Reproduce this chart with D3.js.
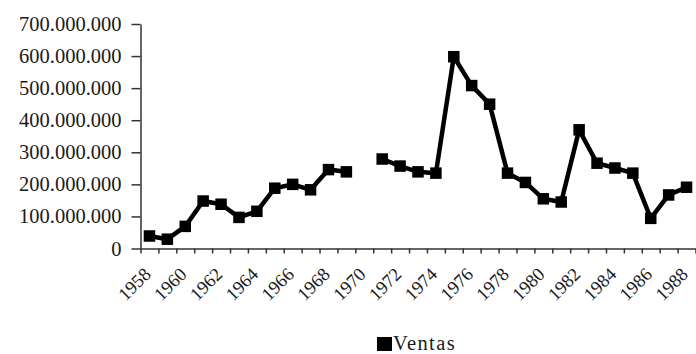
<!DOCTYPE html>
<html>
<head>
<meta charset="utf-8">
<script src="https://cdn.jsdelivr.net/npm/d3@7/dist/d3.min.js"></script>
<style>
  html, body { margin: 0; padding: 0; background: #fff; }
  svg { display: block; }
  text { font-family: "Liberation Serif", "DejaVu Serif", serif; fill: #1a1a1a; }
</style>
</head>
<body>
<svg id="chart" width="696" height="354"></svg>
<script>
// Annual sales (Ventas), 1958–1988; 1970 has no record
const years = [1958, 1959, 1960, 1961, 1962, 1963, 1964, 1965, 1966, 1967,
               1968, 1969, 1970, 1971, 1972, 1973, 1974, 1975, 1976, 1977,
               1978, 1979, 1980, 1981, 1982, 1983, 1984, 1985, 1986, 1987, 1988];
const ventas = [39e6, 29e6, 69e6, 148e6, 138e6, 97e6, 116e6, 188e6, 200e6, 183e6,
                246e6, 239e6, null, 279e6, 257e6, 239e6, 235e6, 598e6, 508e6, 450e6,
                235e6, 206e6, 155e6, 145e6, 370e6, 266e6, 251e6, 235e6, 94e6, 167e6, 191e6];
const yTicks = [0, 100e6, 200e6, 300e6, 400e6, 500e6, 600e6, 700e6];
const xLabelYears = [1958, 1960, 1962, 1964, 1966, 1968, 1970, 1972, 1974,
                     1976, 1978, 1980, 1982, 1984, 1986, 1988];
const seriesName = "Ventas";

const data = years.map((yr, i) => ({ year: yr, value: ventas[i] }));

const svg = d3.select("#chart");
const plotLeft = 140.5, plotRight = 695.5, plotTop = 24, plotBottom = 248.5;

const x = d3.scaleLinear().domain([years[0] - 0.5, years[years.length - 1] + 0.5]).range([plotLeft, plotRight]);
const y = d3.scaleLinear().domain([0, 700e6]).range([plotBottom, plotTop]);

const es = d3.formatLocale({ decimal: ",", thousands: ".", grouping: [3], currency: ["", ""] });
const fmt = es.format(",d");

// Y axis
const yAxis = svg.append("g")
  .attr("transform", `translate(${plotLeft},0)`)
  .call(d3.axisLeft(y).tickValues(yTicks).tickFormat(fmt).tickSize(9).tickSizeOuter(0).tickPadding(10));
yAxis.selectAll("path, line").attr("stroke", "#333").attr("stroke-width", 1.5);
yAxis.selectAll("text").attr("font-size", 20.5).attr("fill", "#1a1a1a")
  .style("font-family", '"Liberation Serif", serif');

// X axis: tick marks at category boundaries
const bounds = d3.range(years.length + 1).map(i => years[0] - 0.5 + i);
const xAxis = svg.append("g")
  .attr("transform", `translate(0,${plotBottom})`)
  .call(d3.axisBottom(x).tickValues(bounds).tickFormat("").tickSize(5).tickSizeOuter(0));
xAxis.selectAll("path, line").attr("stroke", "#333").attr("stroke-width", 1.5);

// X labels, rotated, every other year
svg.append("g").selectAll("text")
  .data(xLabelYears)
  .join("text")
  .attr("text-anchor", "end")
  .attr("font-size", 18.5)
  .attr("transform", d => `translate(${x(d) + 2.5},${plotBottom + 27}) rotate(-45)`)
  .text(d => d);

// Line with a break where a year is missing
const line = d3.line()
  .defined(d => d.value !== null)
  .x(d => x(d.year))
  .y(d => y(d.value));

svg.append("path")
  .datum(data)
  .attr("fill", "none")
  .attr("stroke", "#000")
  .attr("stroke-width", 4.5)
  .attr("stroke-linejoin", "round")
  .attr("d", line);

const ms = 11.5;
svg.append("g").selectAll("rect")
  .data(data.filter(d => d.value !== null))
  .join("rect")
  .attr("x", d => x(d.year) - ms / 2)
  .attr("y", d => y(d.value) - ms / 2)
  .attr("width", ms)
  .attr("height", ms)
  .attr("fill", "#000");

// Legend
const lg = svg.append("g").attr("transform", "translate(377,337)");
lg.append("rect").attr("width", 15).attr("height", 14).attr("fill", "#000");
lg.append("text").attr("x", 16).attr("y", 12.5).attr("font-size", 20.5)
  .attr("letter-spacing", 1.4).text(seriesName);
</script>
</body>
</html>
